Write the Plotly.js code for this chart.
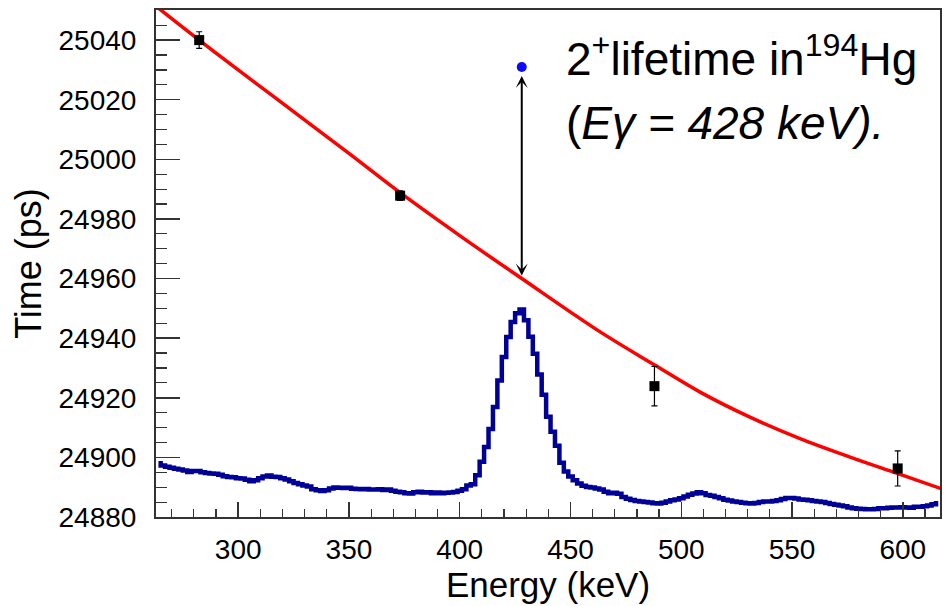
<!DOCTYPE html>
<html>
<head>
<meta charset="utf-8">
<script src="https://cdn.plot.ly/plotly-3.0.1.min.js"></script>
<style>html,body{margin:0;padding:0;background:#fff;}#chart{width:948px;height:606px;}</style>
</head>
<body>
<div id="chart"></div>
<script>
// Calibration points (energy in keV, time in ps, error in ps)
const pointEnergy = [282.4, 373.1, 487.9, 597.7];
const pointTime   = [25040.0, 24987.8, 24923.9, 24896.3];
const pointError  = [2.8, 1.6, 6.6, 5.9];

// Fitted curve
const fitEnergy = [263.0, 282.4, 300.0, 325.0, 350.0, 373.1, 400.0, 428.0, 463.4, 488.2, 508.5, 531.0, 553.6, 576.2, 597.2, 617.0];
const fitTime   = [25051.3, 25040.0, 25030.0, 25016.0, 25002.0, 24988.8, 24974.4, 24960.0, 24942.1, 24930.9, 24921.9, 24913.5, 24906.3, 24900.1, 24894.7, 24889.6];

// Measured 2+ state point in 194Hg
const levelEnergy = [428];
const levelTime   = [25031];
const arrowBottom = [24961];

// Gamma spectrum (scaled counts shown on time axis), 2 keV bins
const specStart = 264, specStep = 2;
const specValues = [
24898.0,24897.3,24896.9,24896.5,24896.2,24895.9,24895.6,24895.1,24895.4,24895.4,
24895.0,24894.8,24894.6,24894.5,24894.2,24893.7,24893.4,24893.3,24893.0,24892.9,
24892.5,24892.0,24892.3,24893.0,24893.6,24893.9,24893.5,24893.4,24893.0,24892.6,
24892.0,24891.4,24891.0,24890.6,24890.2,24889.3,24889.0,24888.7,24889.0,24889.6,
24889.9,24889.8,24889.7,24889.8,24889.5,24889.4,24889.3,24889.4,24889.2,24889.2,
24889.3,24889.1,24889.2,24888.8,24888.5,24888.3,24888.0,24887.9,24888.3,24888.5,
24888.2,24888.3,24888.0,24888.2,24888.0,24888.1,24888.2,24888.4,24888.8,24889.3,
24890.6,24891.0,24894.0,24898.5,24903.5,24909.5,24916.9,24925.8,24933.7,24940.4,
24945.4,24948.4,24949.6,24946.0,24940.5,24934.8,24927.8,24921.0,24913.6,24908.6,
24903.9,24898.2,24895.3,24893.6,24892.3,24891.2,24890.5,24890.1,24889.9,24889.6,
24889.2,24888.5,24888.0,24888.1,24887.8,24886.7,24886.1,24885.7,24885.4,24885.2,
24885.0,24884.9,24884.6,24884.5,24884.8,24885.2,24885.6,24885.9,24886.3,24886.9,
24887.5,24887.9,24888.3,24888.0,24887.4,24887.1,24886.7,24886.3,24885.8,24885.5,
24885.2,24885.0,24884.8,24884.6,24884.5,24884.7,24885.0,24885.2,24885.2,24885.4,
24885.6,24886.0,24886.4,24886.4,24886.2,24885.9,24885.8,24885.6,24885.4,24885.2,
24885.0,24884.7,24884.4,24884.1,24883.9,24883.6,24883.2,24882.9,24882.8,24882.7,
24882.6,24882.6,24882.7,24882.9,24882.9,24883.1,24883.2,24883.2,24883.3,24883.2,
24883.1,24883.4,24883.4,24883.6,24883.9,24884.3,24884.6
];
const specEnergy = specValues.map((v, i) => specStart + i * specStep);

// Axis ticks
const xTicks = [300, 350, 400, 450, 500, 550, 600];
const yTicks = [24880, 24900, 24920, 24940, 24960, 24980, 25000, 25020, 25040];

const font = "Arial, 'Liberation Sans', Helvetica, sans-serif";

const traces = [
  {
    x: specEnergy, y: specValues, type: 'scatter', mode: 'lines',
    line: {color: '#000096', width: 4.5, shape: 'hvh'}, hoverinfo: 'skip'
  },
  {
    x: fitEnergy, y: fitTime, type: 'scatter', mode: 'lines',
    line: {color: '#ff0000', width: 3.5, shape: 'spline', smoothing: 1.0}, hoverinfo: 'skip'
  },
  {
    x: pointEnergy, y: pointTime, type: 'scatter', mode: 'markers',
    marker: {symbol: 'square', size: 10, color: '#000000'},
    error_y: {type: 'data', array: pointError, visible: true, color: '#000000', thickness: 1.2, width: 3}
  },
  {
    x: levelEnergy, y: levelTime, type: 'scatter', mode: 'markers',
    marker: {symbol: 'circle', size: 10, color: '#0a0aff'}
  }
];

const layout = {
  width: 948, height: 606,
  margin: {l: 156, r: 8, t: 10, b: 89},
  paper_bgcolor: '#ffffff', plot_bgcolor: '#ffffff',
  showlegend: false,
  font: {family: font, color: '#000000'},
  xaxis: {
    range: [262.9, 616.8], tickmode: 'array', tickvals: xTicks, ticktext: xTicks.map(String),
    ticks: 'inside', ticklen: 15, tickwidth: 1.5, tickcolor: '#333',
    minor: {dtick: 10, ticks: 'inside', ticklen: 8, tickwidth: 1.2, tickcolor: '#333'},
    showline: true, linecolor: '#333', linewidth: 2, mirror: true,
    showgrid: false, zeroline: false,
    tickfont: {size: 28, family: font, color: '#000'},
    ticklabelstandoff: 6,
    title: {text: 'Energy (keV)', font: {size: 35, family: font, color: '#000'}, standoff: 8}
  },
  yaxis: {
    range: [24880, 25050.1], tickmode: 'array', tickvals: yTicks, ticktext: yTicks.map(String),
    ticks: 'inside', ticklen: 24, tickwidth: 1.5, tickcolor: '#333',
    minor: {dtick: 5, ticks: 'inside', ticklen: 11, tickwidth: 1.2, tickcolor: '#333'},
    showline: true, linecolor: '#333', linewidth: 2, mirror: true,
    showgrid: false, zeroline: false,
    tickfont: {size: 28, family: font, color: '#000'},
    ticklabelstandoff: 12,
    title: {text: 'Time (ps)', font: {size: 36, family: font, color: '#000'}, standoff: 6}
  },
  annotations: [
    {
      x: levelEnergy[0], y: arrowBottom[0], ax: levelEnergy[0], ay: levelTime[0] - 2.5,
      xref: 'x', yref: 'y', axref: 'x', ayref: 'y', text: '',
      showarrow: true, arrowhead: 3, startarrowhead: 3, arrowside: 'end+start',
      arrowsize: 1, startarrowsize: 1, arrowwidth: 2, arrowcolor: '#000'
    },
    {
      xref: 'paper', yref: 'paper', x: 0.52, y: 0.909, xanchor: 'left', yanchor: 'middle',
      text: '2<sup>+</sup>lifetime in<sup>194</sup>Hg', showarrow: false,
      font: {size: 46, family: font, color: '#000'}
    },
    {
      xref: 'paper', yref: 'paper', x: 0.52, y: 0.777, xanchor: 'left', yanchor: 'middle',
      text: '(<i>Eγ = 428 keV).</i>', showarrow: false,
      font: {size: 46, family: font, color: '#000'}
    }
  ]
};

Plotly.newPlot('chart', traces, layout, {displayModeBar: false, staticPlot: true});
</script>
</body>
</html>
